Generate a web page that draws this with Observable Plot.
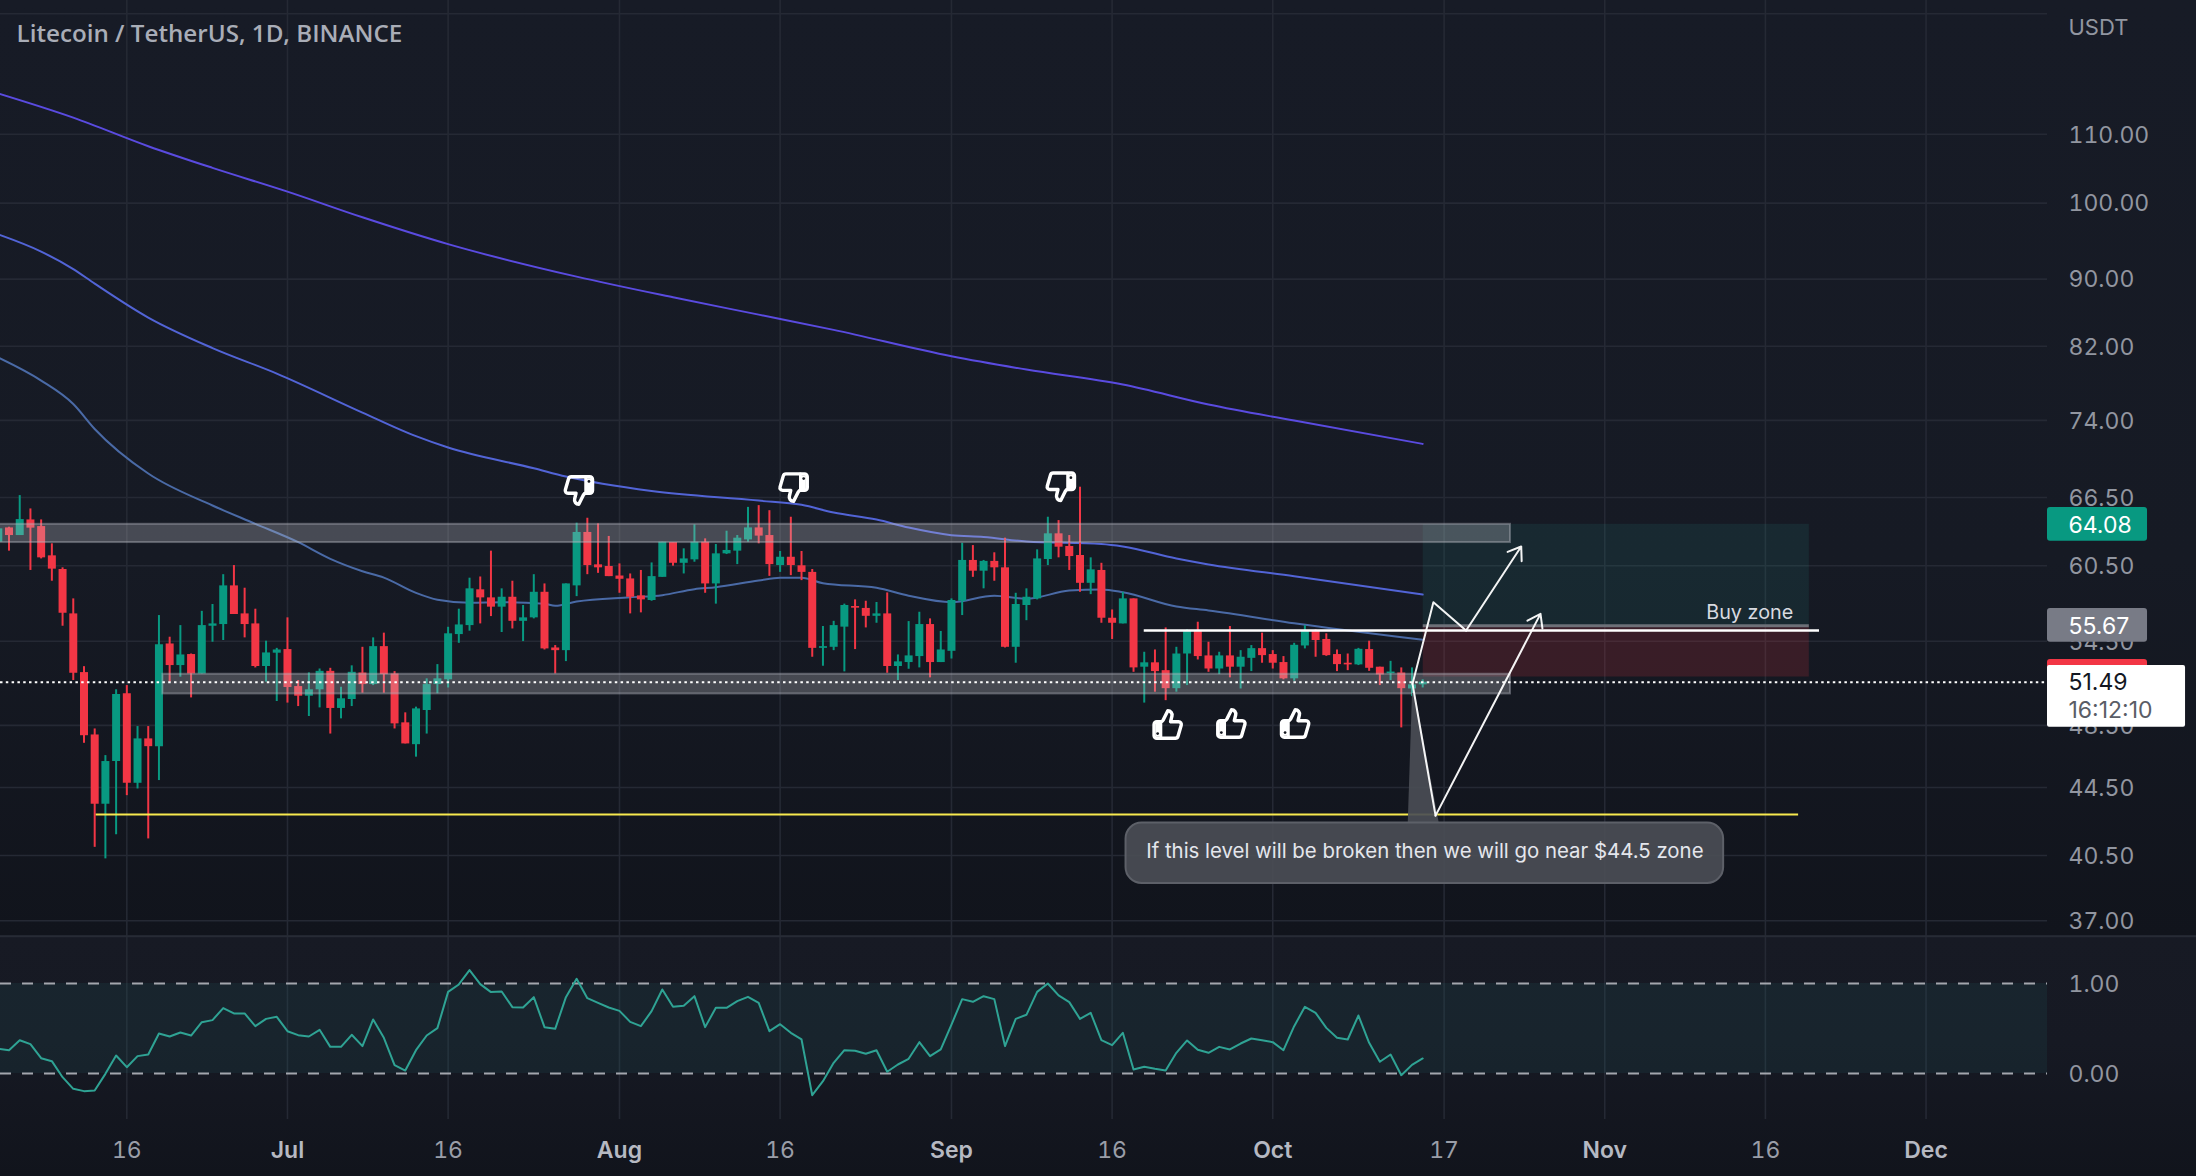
<!DOCTYPE html>
<html>
<head>
<meta charset="utf-8">
<title>Litecoin / TetherUS</title>
<script src="https://cdn.jsdelivr.net/npm/d3@7"></script>
<script src="https://cdn.jsdelivr.net/npm/@observablehq/plot@0.6"></script>
<style>
html,body{margin:0;padding:0;background:#14171f;overflow:hidden;}
svg{display:block;max-width:none;}
</style>
</head>
<body>
<div id="chart"></div>
<script>
// ---------- data ----------
const firstDay = "2022-06-04";
const open = [62.51,63.76,63.09,64.47,63.88,61.34,60.19,56.60,52.18,47.86,43.48,46.13,50.67,44.76,47.60,47.09,54.29,52.69,53.50,52.08,55.64,55.77,58.84,56.60,55.82,52.62,53.60,53.87,51.18,50.50,50.95,52.27,49.65,50.27,52.15,51.32,54.09,52.08,48.67,47.22,49.51,51.32,51.66,55.00,55.69,58.52,57.87,57.13,57.92,56.02,56.29,58.32,53.99,53.79,58.84,63.36,60.58,60.44,59.65,59.41,58.03,57.66,59.54,62.48,60.71,61.00,62.51,59.00,61.51,61.74,62.71,63.76,63.09,60.52,61.22,60.50,59.95,53.96,54.04,55.57,57.18,57.03,56.41,56.60,52.62,52.91,53.35,55.77,52.91,53.74,57.60,60.95,60.05,60.87,60.33,54.04,57.26,57.79,61.03,63.24,62.14,61.37,59.05,60.11,56.26,55.82,57.79,52.57,52.89,52.32,51.03,53.54,55.26,53.40,52.44,53.40,52.57,53.22,53.94,53.50,52.91,51.73,54.14,55.31,54.63,53.50,52.86,52.74,53.87,52.57,52.10,52.15,51.01,51.30];
const high = [63.97,63.82,66.68,65.46,64.47,62.37,60.33,57.79,52.61,48.26,46.51,50.95,51.25,48.42,48.42,56.47,54.80,55.69,53.54,56.80,57.34,59.76,60.52,58.65,56.97,54.50,53.96,56.29,51.61,52.16,52.44,52.49,51.13,52.67,54.04,54.75,55.11,52.25,49.35,49.74,51.73,52.76,55.56,56.97,59.47,59.57,61.74,58.60,59.22,57.26,59.76,59.00,54.17,59.00,64.18,64.62,64.12,63.01,60.66,59.82,60.11,60.74,62.51,62.48,61.94,64.03,62.80,62.31,63.47,63.09,65.60,65.76,65.30,61.71,64.71,61.71,60.19,55.62,56.02,57.37,57.71,57.60,57.50,58.27,53.47,56.00,56.73,56.21,55.24,57.79,62.42,62.22,60.95,61.60,62.86,58.24,58.60,61.85,64.71,64.41,63.09,67.46,61.17,60.71,56.91,58.32,57.79,53.67,53.84,55.51,54.04,55.36,55.95,54.42,53.67,55.62,53.79,54.17,55.11,53.79,53.35,54.34,55.69,55.36,55.06,53.84,53.54,53.96,54.50,52.57,53.00,52.52,52.52,51.66];
const low = [62.37,61.74,63.09,60.11,61.08,59.22,55.64,51.61,47.31,40.96,40.31,41.68,44.00,44.41,41.44,44.93,51.49,51.85,50.38,52.08,54.42,54.55,56.55,54.75,52.52,51.49,50.13,50.02,49.78,49.10,49.69,47.92,48.94,49.78,50.71,51.25,50.71,48.26,47.27,46.41,47.92,50.67,51.08,54.34,55.26,55.82,56.39,55.16,55.43,54.47,56.21,53.84,52.08,52.98,57.97,59.76,59.87,59.60,58.24,56.60,56.68,57.60,59.54,60.47,59.82,60.80,58.24,57.37,61.45,60.60,62.51,62.37,59.62,59.95,59.68,59.27,53.30,52.64,53.79,52.23,53.87,55.51,55.87,52.13,51.61,52.42,52.52,51.80,52.91,53.17,56.47,59.54,58.60,59.22,53.99,52.86,56.07,57.71,60.52,61.17,60.11,58.32,58.13,55.87,54.63,55.82,52.20,50.02,50.78,50.19,50.78,51.25,53.10,52.20,52.03,51.80,51.01,52.25,52.86,52.44,51.66,51.56,53.92,53.30,53.37,52.25,52.32,52.69,52.27,51.25,51.61,48.33,50.47,51.08];
const close = [63.68,63.09,64.50,63.74,61.17,60.22,56.65,52.13,47.81,43.48,46.13,50.62,44.76,47.60,47.09,54.24,52.69,53.47,52.08,55.69,55.82,58.84,56.55,55.77,52.62,53.62,53.84,51.11,50.50,50.95,52.27,49.65,50.32,52.20,51.32,54.09,52.03,48.60,47.27,49.62,51.32,51.73,55.06,55.74,58.60,57.87,57.13,57.92,56.02,56.29,58.32,53.92,53.79,59.00,63.36,60.52,60.33,59.60,59.38,57.92,57.71,59.60,62.51,60.71,61.08,62.51,59.00,61.51,61.80,62.86,63.76,63.04,60.60,61.22,60.52,59.95,53.96,54.09,55.69,57.26,57.05,56.41,56.60,52.62,52.96,53.40,55.77,52.91,53.84,57.66,60.95,60.05,60.87,60.33,54.04,57.34,57.92,61.08,63.24,62.08,61.28,59.05,60.16,56.26,55.87,57.79,52.52,52.89,52.25,51.03,53.54,55.26,53.35,52.44,53.40,52.57,53.30,53.94,53.42,52.86,51.73,54.19,55.31,54.55,53.42,52.76,52.74,53.89,52.49,52.01,52.22,51.03,51.30,51.49];

const ma1Dates = ["06-04","06-11","06-18","06-24","07-01","07-08","07-16","07-28","08-06","08-14","08-21","09-01","09-08","09-17","09-25","10-03","10-15"];
const ma1Values = [116.4,112.57,108.2,105.0,101.6,98.05,94.47,90.31,87.76,85.68,83.89,80.88,79.4,77.77,75.65,73.98,71.63];
const ma2Dates = ["06-04","06-08","06-11","06-13","06-18","06-24","06-30","07-08","07-13","07-16","07-24","07-27","08-04","08-14","08-18","08-21","08-25","08-28","09-01","09-04","09-08","09-15","09-17","09-22","09-25","10-03","10-15"];
const ma2Values = [95.75,93.5,91.26,89.44,85.33,81.8,78.96,74.81,72.4,71.27,69.25,68.46,67.1,66.22,65.83,65.13,64.5,63.79,63.12,62.97,62.57,62.35,62.14,61.11,60.61,59.63,58.14];
const ma3Dates = ["06-04","06-08","06-11","06-13","06-18","06-24","06-28","07-02","07-05","07-08","07-10","07-13","07-15","07-18","07-21","07-25","07-26","07-28","08-02","08-05","08-08","08-10","08-14","08-16","08-18","08-20","08-25","08-28","09-01","09-05","09-08","09-12","09-15","09-17","09-22","09-25","10-03","10-15"];
const ma3Values = [80.73,78.2,75.7,73.13,68.75,65.77,64.12,62.51,61.09,60.05,59.52,58.27,57.72,57.48,57.52,57.4,57.24,57.58,57.92,58.09,58.57,58.73,59.28,59.5,59.5,59.06,58.68,58.04,57.52,58.04,57.8,58.46,58.55,58.33,57.18,56.87,55.87,54.6];

const oscillator = [.274,.259,.370,.326,.170,.137,-.041,-.170,-.196,-.189,-.004,.200,.070,.193,.211,.444,.411,.456,.422,.570,.593,.726,.667,.667,.526,.607,.630,.470,.426,.411,.485,.296,.296,.430,.304,.600,.396,.093,.033,.259,.422,.504,.907,.989,1.148,.993,.904,.911,.737,.733,.848,.515,.496,.848,1.052,.837,.785,.733,.696,.574,.526,.693,.933,.741,.752,.859,.515,.730,.730,.804,.852,.785,.470,.548,.452,.378,-.241,-.085,.119,.259,.252,.219,.259,.019,.100,.163,.348,.193,.267,.544,.826,.796,.859,.826,.304,.607,.652,.907,1.000,.867,.793,.607,.674,.370,.315,.452,.044,.074,.052,.033,.230,.367,.263,.230,.296,.267,.333,.389,.370,.348,.259,.526,.741,.674,.507,.396,.378,.644,.341,.130,.211,-.019,.096,.167];

const priceTicks = [110,100,90,82,74,66.5,60.5,54.5,48.5,44.5,40.5,37];
const priceGridOnly = [130];
const oscTicks = [0,1];
const dayTickDates = ["2022-06-16","2022-07-16","2022-08-16","2022-09-16","2022-10-17","2022-11-16"];
const monthTickDates = ["2022-07-01","2022-08-01","2022-09-01","2022-10-01","2022-11-01","2022-12-01"];

const targetPrice = 64.08, entryPrice = 55.67, stopPrice = 51.86, lastPrice = 51.49, countdown = "16:12:10";
const upperBand = [64.08, 62.48], lowerBand = [52.06, 50.66];
const supportLevel = 42.86, rangeTop = 55.31;
const titleText = "Litecoin / TetherUS, 1D, BINANCE";
const currencyText = "USDT";
const noteText = "If this level will be broken then we will go near $44.5 zone";
const buyText = "Buy zone";

// ---------- helpers ----------
const start = new Date(firstDay + "T00:00Z");
const day = i => new Date(+start + i * 864e5);
const iso = s => new Date("2022-" + s + "T00:00Z");
const rows = open.map((o, i) => ({date: day(i), open: o, high: high[i], low: low[i], close: close[i]}));
const up = rows.filter(d => d.close >= d.open), down = rows.filter(d => d.close < d.open);
const maRows = (ds, vs) => ds.map((d, i) => ({date: iso(d), value: vs[i]}));
const oscRows = oscillator.map((v, i) => ({date: day(i), value: v}));
const dayTicks = dayTickDates.map(s => new Date(s + "T00:00Z"));
const monthTicks = monthTickDates.map(s => new Date(s + "T00:00Z"));

const GREEN = "#089981", RED = "#f23645", TEAL = "#2a9d98", GRID = "#252934", MUTED = "#9296a0";
const FONT = "Inter, 'Liberation Sans', sans-serif";
const xDomain = [day(0.205), day(191.34)];
const axisEnd = xDomain[1];
const labelX = day(193.3);
const W = 2196;

function thumb(down) {
  const body = `<path d="M7 10v12" stroke-width="2"/><path d="M15 5.88 14 10h5.83a2 2 0 0 1 1.92 2.56l-2.33 8A2 2 0 0 1 17.5 22H4a2 2 0 0 1-2-2v-8a2 2 0 0 1 2-2h2.76a2 2 0 0 0 1.79-1.11L12 2a3.13 3.13 0 0 1 3 3.88Z"/><path d="M3 11h4v10H3z" fill="#fff" stroke="none"/><circle cx="4.6" cy="18.6" r="1" fill="#14171f" stroke="none"/>`;
  const t = down ? ' transform="rotate(180 12 12)"' : "";
  const svg = `<svg xmlns="http://www.w3.org/2000/svg" viewBox="0 0 24 24" fill="none" stroke="#fff" stroke-width="2.5" stroke-linejoin="round" stroke-linecap="round"><g${t}>${body}</g></svg>`;
  return "data:image/svg+xml," + encodeURIComponent(svg);
}
const thumbsDown = [{date: day(54.2), price: 67.15}, {date: day(74.25), price: 67.42}, {date: day(99.2), price: 67.5}];
const thumbsUp = [{date: day(109.2), price: 48.56}, {date: day(115.15), price: 48.63}, {date: day(121.1), price: 48.63}];

const box = (x1, x2, y1, y2) => [{x1: day(x1), x2: day(x2), y1, y2}];
const boxOpts = o => ({x1: "x1", x2: "x2", y1: "y1", y2: "y2", ...o});
const pathStyle = {stroke: "#fff", strokeWidth: 2, strokeOpacity: .95};

const main = Plot.plot({
  width: W, height: 935,
  marginLeft: 0, marginRight: 149, marginTop: 0, marginBottom: 0,
  x: {type: "utc", domain: xDomain, axis: null, label: null},
  y: {type: "log", domain: [36.25, 132.4], axis: null, label: null},
  style: {background: "linear-gradient(#171b26 0%, #161a24 60%, #11141c 100%)", fontFamily: FONT, overflow: "hidden"},
  marks: [
    Plot.gridY([...priceGridOnly, ...priceTicks], {y: d => d, stroke: GRID, strokeOpacity: 1, strokeWidth: 1.6}),
    Plot.gridX([...dayTicks, ...monthTicks], {x: d => d, stroke: GRID, strokeOpacity: 1, strokeWidth: 1.6}),
    Plot.axisY({anchor: "right", ticks: priceTicks, tickFormat: ".2f", tickSize: 0, tickPadding: 21, fontSize: 23, fill: MUTED, label: null, dy: 1}),
    Plot.text([currencyText], {text: d => d, x: labelX, y: 127.5, textAnchor: "start", fontSize: 22, fill: MUTED}),
    Plot.text([titleText], {text: d => d, frameAnchor: "top-left", dx: 16, dy: 24, fontSize: 24.2, fontWeight: 600, fill: "#a9adb7", fontFamily: "'Open Sans', sans-serif"}),

    // moving averages
    Plot.line(maRows(ma3Dates, ma3Values), {x: "date", y: "value", stroke: "#4a6aa6", strokeWidth: 2, curve: "monotone-x"}),
    Plot.line(maRows(ma2Dates, ma2Values), {x: "date", y: "value", stroke: "#5264d6", strokeWidth: 2, curve: "monotone-x"}),
    Plot.line(maRows(ma1Dates, ma1Values), {x: "date", y: "value", stroke: "#5a4be0", strokeWidth: 2, curve: "monotone-x"}),

    // candles
    Plot.ruleX(up, {x: "date", y1: "low", y2: "high", stroke: GREEN, strokeWidth: 2}),
    Plot.ruleX(down, {x: "date", y1: "low", y2: "high", stroke: RED, strokeWidth: 2}),
    Plot.ruleX(up, {x: "date", y1: "open", y2: "close", stroke: GREEN, strokeWidth: 8}),
    Plot.ruleX(down, {x: "date", y1: "open", y2: "close", stroke: RED, strokeWidth: 8}),

    // long position zones
    Plot.rect(box(133.05, 169.1, entryPrice, targetPrice), boxOpts({fill: TEAL, fillOpacity: .12})),
    Plot.rect(box(133.05, 169.1, stopPrice, entryPrice), boxOpts({fill: RED, fillOpacity: .165})),
    Plot.ruleY([entryPrice], {x1: day(133.05), x2: day(169.1), stroke: "#6d7078", strokeWidth: 3}),

    // horizontal bands
    Plot.rect(box(-3, 141.2, upperBand[1], upperBand[0]), boxOpts({fill: "#c8cad2", fillOpacity: .28, stroke: "#b2b5be", strokeOpacity: .42, strokeWidth: 2})),
    Plot.rect(box(15.37, 141.2, lowerBand[1], lowerBand[0]), boxOpts({fill: "#c8cad2", fillOpacity: .28, stroke: "#b2b5be", strokeOpacity: .42, strokeWidth: 2})),

    // levels
    Plot.ruleY([supportLevel], {x1: day(9.14), x2: day(168.1), stroke: "#f7e94f", strokeWidth: 2}),
    Plot.ruleY([rangeTop], {x1: day(107), x2: day(170.05), stroke: "#fff", strokeWidth: 2.5}),
    Plot.ruleY([lastPrice], {x1: xDomain[0], x2: axisEnd, stroke: "#fff", strokeWidth: 2, strokeDasharray: "2.5 3.3"}),

    // callout
    Plot.areaX([{a: day(132.05), b: day(132.3), price: 50.69}, {a: day(131.65), b: day(134.55), price: 42.34}],
      {x1: "a", x2: "b", y: "price", fill: "#4a4d55", fillOpacity: .92}),
    Plot.rect(box(105.3, 161.1, 38.96, 42.36), boxOpts({fill: "#4a4d55", fillOpacity: .92, stroke: "#5d6068", strokeWidth: 2, rx: 16})),
    Plot.text([noteText], {text: d => d, x: day(133.2), y: 40.73, fontSize: 20.4, fill: "#e4e6ec", letterSpacing: .3}),

    // projected path
    Plot.line([{d: day(132.05), p: 51.37}, {d: day(134), p: 57.52}, {d: day(137.05), p: 55.31}], {x: "d", y: "p", ...pathStyle}),
    Plot.arrow([{a: day(137.05), b: day(142.2), p: 55.31, q: 62.14}], {x1: "a", x2: "b", y1: "p", y2: "q", headLength: 11, headAngle: 70, ...pathStyle}),
    Plot.line([{d: day(132.05), p: 51.37}, {d: day(134.2), p: 42.80}], {x: "d", y: "p", ...pathStyle}),
    Plot.arrow([{a: day(134.2), b: day(144), p: 42.80, q: 56.6}], {x1: "a", x2: "b", y1: "p", y2: "q", headLength: 11, headAngle: 70, ...pathStyle}),

    Plot.text([buyText], {text: d => d, x: day(167.6), y: 56.73, textAnchor: "end", fontSize: 19.8, fill: "#d8dae0", letterSpacing: .3}),

    // thumbs
    Plot.image(thumbsDown, {x: "date", y: "price", src: thumb(true), width: 33, height: 34}),
    Plot.image(thumbsUp, {x: "date", y: "price", src: thumb(false), width: 33, height: 34}),

    // price labels
    Plot.rect([{x1: axisEnd, x2: day(200.68), y1: 62.59, y2: 65.59}], boxOpts({fill: GREEN, rx: 3})),
    Plot.rect([{x1: axisEnd, x2: day(200.68), y1: 54.42, y2: 57.02}], boxOpts({fill: "#787b86", rx: 3})),
    Plot.rect([{x1: axisEnd, x2: day(200.68), y1: 50, y2: 53.13}], boxOpts({fill: RED, rx: 3})),
    Plot.rect([{x1: axisEnd, x2: day(204.23), y1: 48.38, y2: 52.69}], boxOpts({fill: "#fff", rx: 2})),
    Plot.text([targetPrice], {text: d => d.toFixed(2), x: labelX, y: d => d, dy: 1, textAnchor: "start", fontSize: 23, fill: "#fff"}),
    Plot.text([entryPrice], {text: d => d.toFixed(2), x: labelX, y: d => d, dy: 1, textAnchor: "start", fontSize: 23, fill: "#fff"}),
    Plot.text([lastPrice], {text: d => d.toFixed(2), x: labelX, y: d => d, dy: 0, textAnchor: "start", fontSize: 23, fill: "#131722"}),
    Plot.text([countdown], {text: d => d, x: labelX, y: lastPrice, dy: 28, textAnchor: "start", fontSize: 23, fill: "#5a5d66", letterSpacing: 2.2})
  ]
});

const lower = Plot.plot({
  width: W, height: 241,
  marginLeft: 0, marginRight: 149, marginTop: 0, marginBottom: 57,
  x: {type: "utc", domain: xDomain, axis: null, label: null},
  y: {domain: [-0.511, 1.533], axis: null, label: null},
  style: {background: "linear-gradient(#171a24 0%, #161923 45%, #11141c 100%)", fontFamily: FONT, overflow: "hidden"},
  marks: [
    Plot.gridX([...dayTicks, ...monthTicks], {x: d => d, stroke: GRID, strokeOpacity: 1, strokeWidth: 1.6}),
    Plot.rect([{x1: day(-1), x2: axisEnd, y1: 0, y2: 1}], boxOpts({fill: TEAL, fillOpacity: .09})),
    Plot.ruleY(oscTicks, {x1: xDomain[0], x2: axisEnd, stroke: "#a3a6ad", strokeWidth: 2, strokeDasharray: "11 11"}),
    Plot.line(oscRows, {x: "date", y: "value", stroke: "#2fa394", strokeWidth: 2}),
    Plot.ruleY([1.525], {x1: day(-1), x2: day(210), stroke: "#272b35", strokeWidth: 2}),
    Plot.axisY({anchor: "right", ticks: oscTicks, tickFormat: ".2f", tickSize: 0, tickPadding: 21, fontSize: 23, fill: MUTED, label: null, dy: 1}),
    Plot.axisX({ticks: dayTicks, tickFormat: d3.utcFormat("%-d"), tickSize: 0, tickPadding: 22, fontSize: 23, fill: "#9a9ea8", label: null}),
    Plot.axisX({ticks: monthTicks, tickFormat: d3.utcFormat("%b"), tickSize: 0, tickPadding: 22, fontSize: 23, fontWeight: 600, fill: "#b6b9c2", label: null})
  ]
});

const root = document.getElementById("chart");
root.append(main, lower);
</script>
</body>
</html>
